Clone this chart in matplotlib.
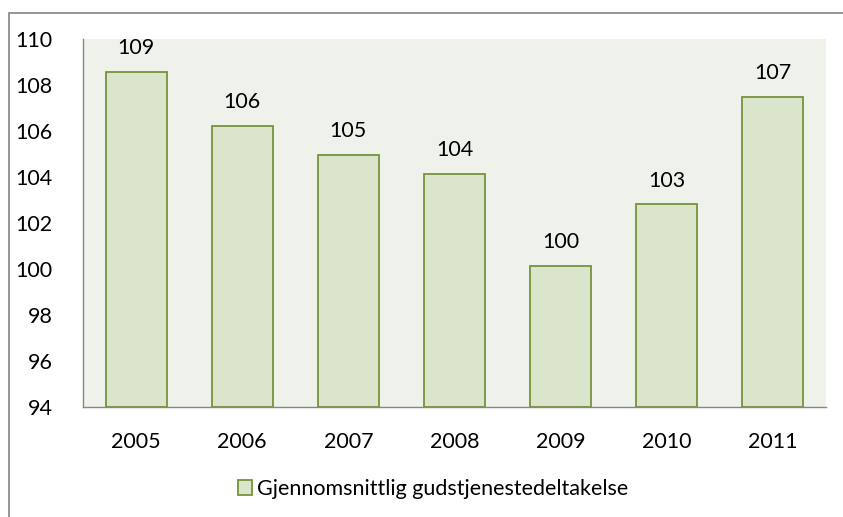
import matplotlib.pyplot as plt
import matplotlib.patches as mpatches

years = ['2005', '2006', '2007', '2008', '2009', '2010', '2011']
values = [108.58, 106.23, 104.97, 104.14, 100.14, 102.81, 107.48]
labels = ['109', '106', '105', '104', '100', '103', '107']
series_name = 'Gjennomsnittlig gudstjenestedeltakelse'

plt.rcParams['font.family'] = ['Lato', 'DejaVu Sans']
FS = 15.5

W, H = 843, 517
fig = plt.figure(figsize=(W / 100, H / 100), dpi=100)
fig.patch.set_facecolor('white')

# ytre ramme (klippes i høyre og nedre kant)
fig.patches.append(mpatches.Rectangle((8.5 / W, -0.1), 2.0, (H - 12.5) / H + 0.1,
                                      transform=fig.transFigure, fill=False,
                                      edgecolor='#8c8c8c', linewidth=1.3))

ax = fig.add_axes([83 / W, 1 - 407 / H, (826 - 83) / W, (407 - 39) / H])
ax.set_facecolor('#eff2ea')

x = range(len(years))
bars = ax.bar(x, [v - 94 for v in values], bottom=94, width=0.575,
              color='#dbe5cc', edgecolor='#77933c', linewidth=1.3)

for i, (v, lab) in enumerate(zip(values, labels)):
    ax.text(i, v + 0.6, lab, ha='center', va='bottom', fontsize=FS, color='black')

ax.set_xlim(-0.5, 6.5)
ax.set_ylim(94, 110)
ax.set_yticks(range(94, 111, 2))
ax.set_xticks(list(x))
ax.set_xticklabels(years)
ax.tick_params(axis='both', length=0, labelsize=FS, colors='black')
ax.tick_params(axis='x', pad=18)
ax.tick_params(axis='y', pad=22)

for side in ['top', 'right']:
    ax.spines[side].set_visible(False)
for side in ['left', 'bottom']:
    ax.spines[side].set_color('#868686')
    ax.spines[side].set_linewidth(1.0)

handle = mpatches.Patch(facecolor='#dbe5cc', edgecolor='#77933c', linewidth=1.3,
                        label=series_name)
fig.legend(handles=[handle], loc='center', bbox_to_anchor=(433 / W, 1 - 489 / H),
           frameon=False, fontsize=FS, handlelength=0.65, handleheight=0.65,
           handletextpad=0.25)

fig.savefig('out.png', dpi=100)
